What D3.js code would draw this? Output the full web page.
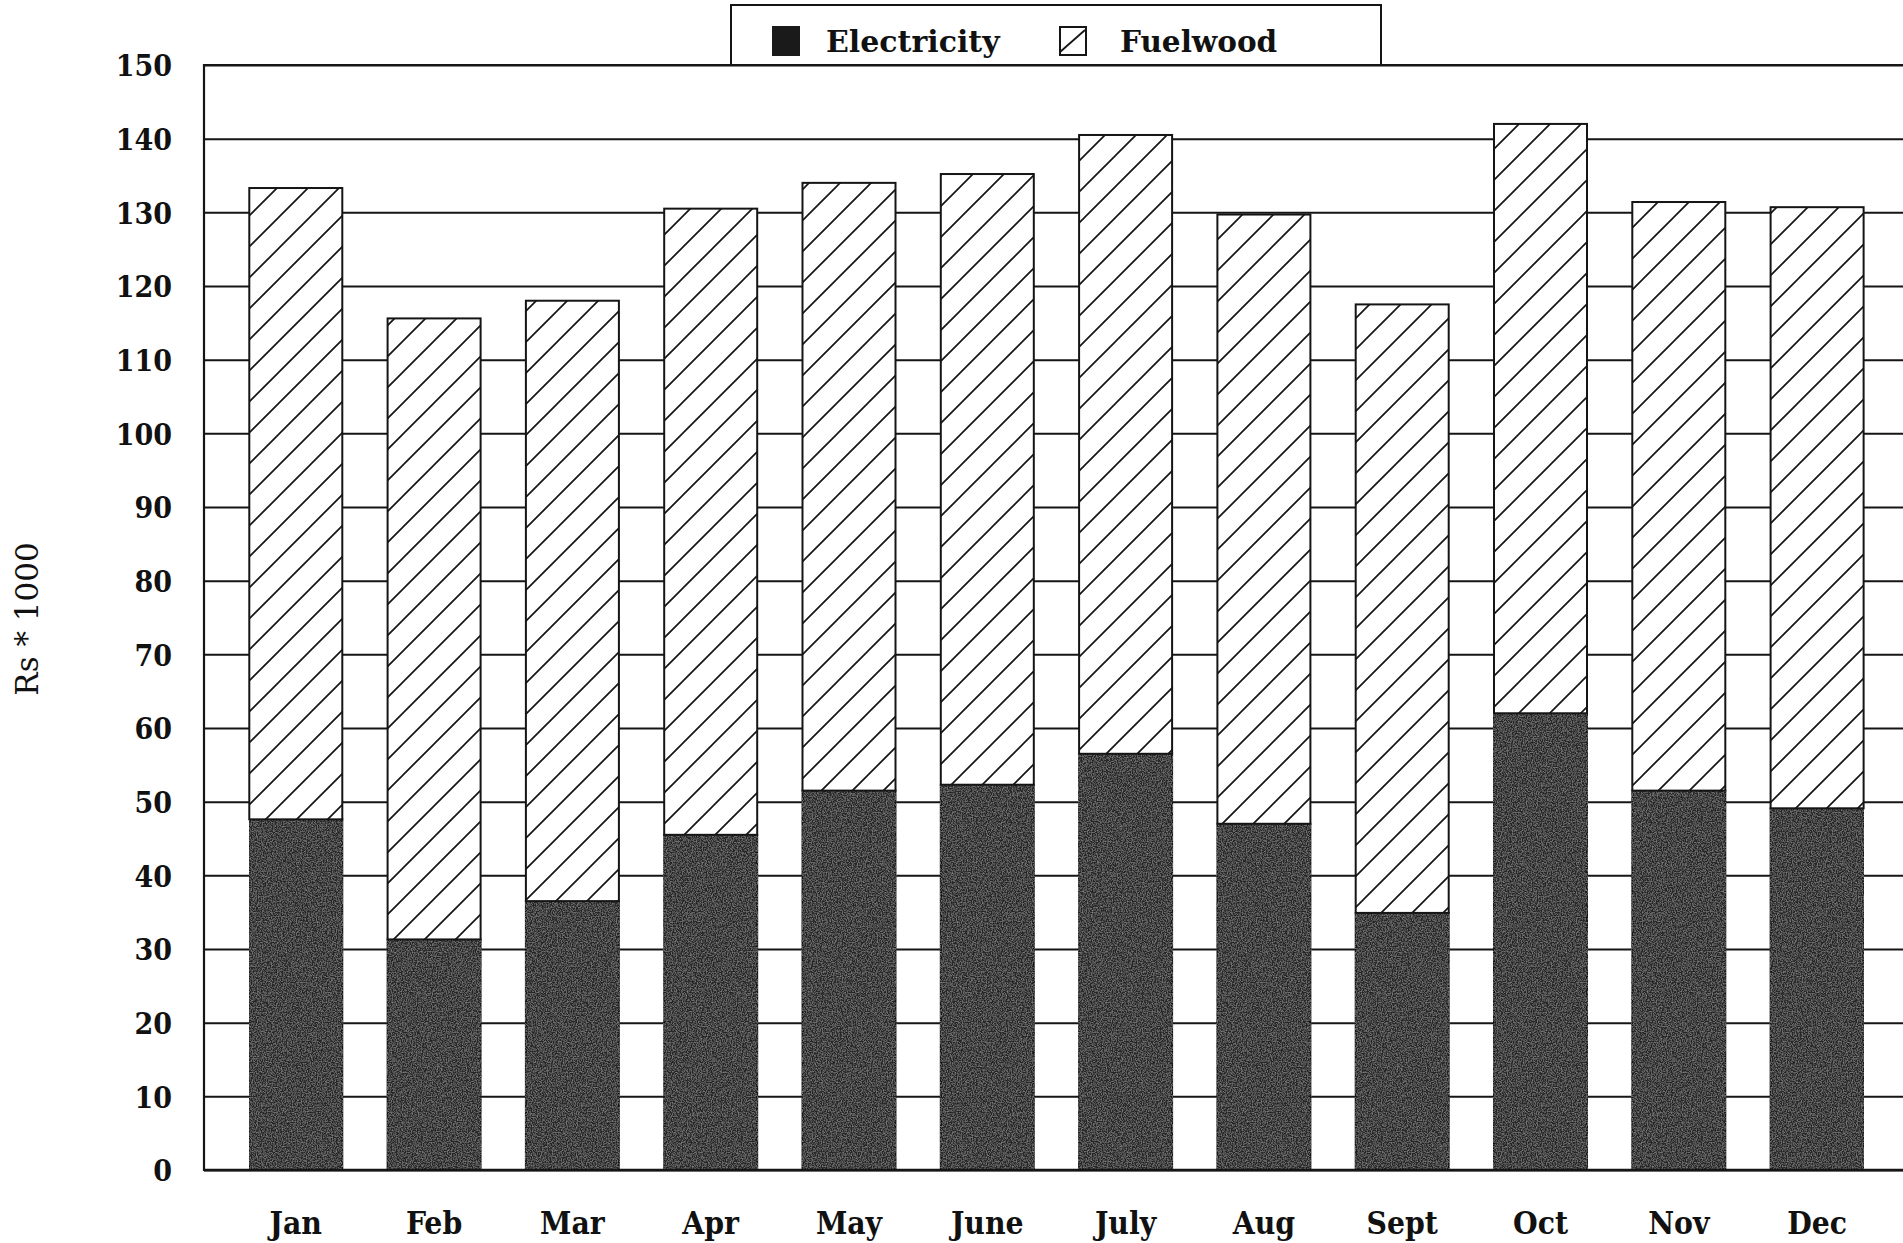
<!DOCTYPE html>
<html>
<head>
<meta charset="utf-8">
<script src="https://cdn.jsdelivr.net/npm/d3@7/dist/d3.min.js"></script>
<style>
  html, body { margin: 0; padding: 0; background: #fff; }
  svg { display: block; }
</style>
</head>
<body>
<svg id="chart" width="1903" height="1243"></svg>
<script>
// ---- data ----
const months = ["Jan","Feb","Mar","Apr","May","June","July","Aug","Sept","Oct","Nov","Dec"];
const electricity = [47.6, 31.3, 36.5, 45.5, 51.5, 52.3, 56.5, 47.0, 34.9, 62.0, 51.5, 49.1];
const fuelwood    = [85.7, 84.3, 81.5, 85.0, 82.5, 82.9, 84.0, 82.7, 82.6, 80.0, 79.9, 81.6];
const seriesNames = ["Electricity", "Fuelwood"];
const yTicks = [0,10,20,30,40,50,60,70,80,90,100,110,120,130,140,150];
const yTitle = "Rs * 1000";

(function () {
// ---- layout ----
const plotL = 204, plotT = 65, plotB = 1170, plotR = 1903;
const svg = d3.select("#chart");
const ink = "#151515";
const serifC = "'DejaVu Serif Condensed', 'DejaVu Serif', serif";
const serif = "'DejaVu Serif', 'Liberation Serif', serif";

const rows = months.map((m, i) => ({ month: m, Electricity: electricity[i], Fuelwood: fuelwood[i] }));
const stacked = d3.stack().keys(seriesNames)(rows);

const y = d3.scaleLinear().domain([0, 150]).range([plotB, plotT]);
const x = d3.scaleBand().domain(months).range([plotL, 1908.9]).paddingInner(0.3275).paddingOuter(0.3275);

// patterns
const defs = svg.append("defs");
const hs = 31;
const pat = defs.append("pattern").attr("id", "hatch")
  .attr("patternUnits", "userSpaceOnUse").attr("width", hs).attr("height", hs);
pat.append("rect").attr("width", hs).attr("height", hs).attr("fill", "#fff");
pat.append("path")
  .attr("d", `M0,${hs} L${hs},0 M${-hs/2},${hs/2} L${hs/2},${-hs/2} M${hs/2},${hs*1.5} L${hs*1.5},${hs/2}`)
  .attr("stroke", ink).attr("stroke-width", 1.7).attr("fill", "none");

const filt = defs.append("filter").attr("id", "grain").attr("x", 0).attr("y", 0).attr("width", 1).attr("height", 1);
filt.append("feTurbulence").attr("type", "fractalNoise").attr("baseFrequency", 0.8).attr("numOctaves", 2).attr("seed", 3).attr("result", "noise");
filt.append("feColorMatrix").attr("in", "noise").attr("type", "matrix")
  .attr("values", "0 0 0 0 0.33  0 0 0 0 0.33  0 0 0 0 0.33  1.4 0 0 0 -0.55").attr("result", "n2");
filt.append("feComposite").attr("in", "n2").attr("in2", "SourceGraphic").attr("operator", "in").attr("result", "n3");
filt.append("feMerge").call(m => { m.append("feMergeNode").attr("in", "SourceGraphic"); m.append("feMergeNode").attr("in", "n3"); });

// gridlines + tick labels
const yAxis = d3.axisLeft(y).tickValues(yTicks).tickSize(-(plotR - plotL)).tickPadding(32).tickFormat(d3.format("d"));
const gy = svg.append("g").attr("transform", `translate(${plotL},0)`).call(yAxis);
gy.select(".domain").remove();
gy.selectAll(".tick line").attr("stroke", ink).attr("stroke-width", 2);
gy.selectAll(".tick text")
  .attr("fill", "#111").attr("font-family", serifC).attr("font-weight", "bold")
  .attr("font-size", 30).attr("dy", "0.36em");

// bars
const fills = { Electricity: "#282828", Fuelwood: "url(#hatch)" };
svg.append("g").selectAll("g").data(stacked).join("g")
  .attr("fill", d => fills[d.key])
  .attr("filter", d => d.key === "Electricity" ? "url(#grain)" : null)
  .selectAll("rect").data(d => d).join("rect")
  .attr("x", d => x(d.data.month))
  .attr("y", d => y(d[1]))
  .attr("width", x.bandwidth())
  .attr("height", d => y(d[0]) - y(d[1]))
  .attr("stroke", ink).attr("stroke-width", 2);

// frame: left axis, baseline
svg.append("line").attr("x1", plotL).attr("x2", plotL).attr("y1", y(150) - 1).attr("y2", y(0) + 1)
  .attr("stroke", ink).attr("stroke-width", 2.2);
svg.append("line").attr("x1", plotL).attr("x2", plotR).attr("y1", y(0)).attr("y2", y(0))
  .attr("stroke", ink).attr("stroke-width", 2.5);

// month labels
svg.append("g").selectAll("text").data(months).join("text")
  .attr("x", d => x(d) + x.bandwidth() / 2)
  .attr("y", 1234)
  .attr("text-anchor", "middle")
  .attr("font-family", serifC).attr("font-weight", "bold").attr("font-size", 31.5)
  .attr("fill", "#111")
  .text(d => d);

// y title
svg.append("text")
  .attr("transform", `translate(38,619) rotate(-90)`)
  .attr("text-anchor", "middle")
  .attr("font-family", serif).attr("font-size", 31).attr("fill", "#111")
  .text(yTitle);

// legend
const lg = svg.append("g");
lg.append("rect").attr("x", 731).attr("y", 5).attr("width", 650).attr("height", 60)
  .attr("fill", "#fff").attr("stroke", ink).attr("stroke-width", 2);
lg.append("rect").attr("x", 772).attr("y", 26).attr("width", 28).attr("height", 30).attr("fill", "#1a1a1a");
lg.append("text").attr("x", 826).attr("y", 52)
  .attr("font-family", serif).attr("font-weight", "bold").attr("font-size", 30).attr("fill", "#111")
  .text(seriesNames[0]);
lg.append("rect").attr("x", 1060).attr("y", 27).attr("width", 26).attr("height", 28)
  .attr("fill", "#fff").attr("stroke", ink).attr("stroke-width", 2);
lg.append("line").attr("x1", 1060).attr("y1", 52).attr("x2", 1085).attr("y2", 30)
  .attr("stroke", ink).attr("stroke-width", 1.8);
lg.append("text").attr("x", 1120).attr("y", 52)
  .attr("font-family", serif).attr("font-weight", "bold").attr("font-size", 29.5).attr("fill", "#111")
  .text(seriesNames[1]);
// top frame line over legend bottom
svg.append("line").attr("x1", plotL).attr("x2", plotR).attr("y1", y(150)).attr("y2", y(150))
  .attr("stroke", ink).attr("stroke-width", 2);
})();
</script>
</body>
</html>
